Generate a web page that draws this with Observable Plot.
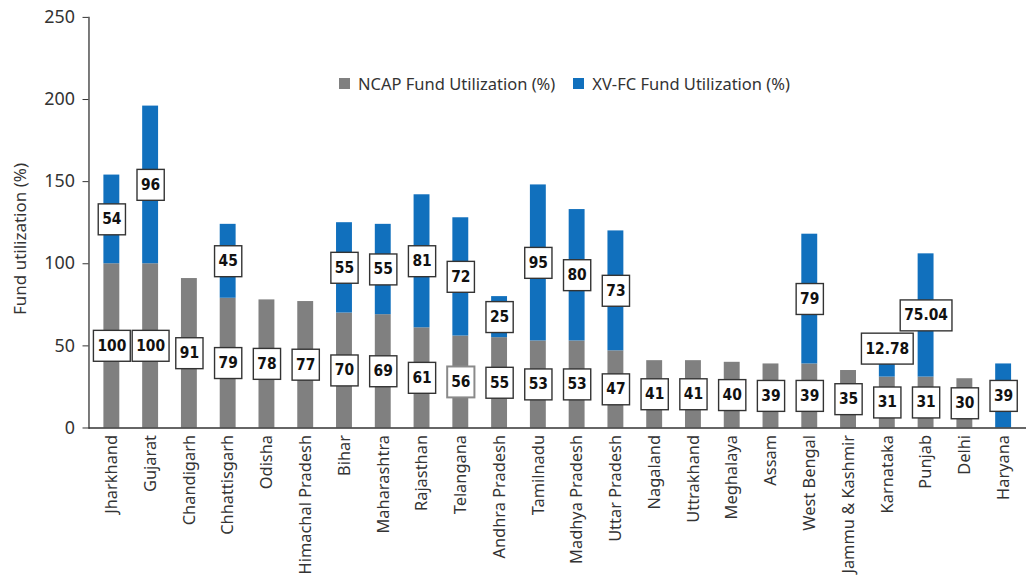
<!DOCTYPE html>
<html>
<head>
<meta charset="utf-8">
<script src="https://cdn.jsdelivr.net/npm/d3@7"></script>
<script src="https://cdn.jsdelivr.net/npm/@observablehq/plot@0.6"></script>
<style>
  html, body { margin: 0; padding: 0; background: #fff; overflow: hidden; }
  #wrap { position: relative; width: 1026px; height: 583px; overflow: hidden; }
  #legend { position: absolute; left: 339px; top: 72px; display: flex; align-items: center;
    font-family: "Noto Sans", sans-serif; font-size: 16.5px; color: #333; white-space: nowrap; }
  #legend .sw { width: 11px; height: 11px; display: inline-block; margin-right: 8px; }
  #legend .item { display: flex; align-items: center; margin-right: 18px; }
  #ytitle { position: absolute; left: 19px; top: 239px; transform: translate(-50%, -50%) rotate(-90deg);
    font-family: "Noto Sans", sans-serif; font-size: 17px; color: #333; white-space: nowrap; }
</style>
</head>
<body>
<div id="wrap">
  <div id="chart"></div>
  <div id="ytitle">Fund utilization (%)</div>
  <div id="legend"></div>
</div>
<script>
const states = ["Jharkhand","Gujarat","Chandigarh","Chhattisgarh","Odisha","Himachal Pradesh","Bihar","Maharashtra","Rajasthan","Telangana","Andhra Pradesh","Tamilnadu","Madhya Pradesh","Uttar Pradesh","Nagaland","Uttrakhand","Meghalaya","Assam","West Bengal","Jammu & Kashmir","Karnataka","Punjab","Delhi","Haryana"];
const ncap = [100,100,91,79,78,77,70,69,61,56,55,53,53,47,41,41,40,39,39,35,31,31,30,null];
const xvfc = [54,96,null,45,null,null,55,55,81,72,25,95,80,73,null,null,null,null,79,null,12.78,75.04,null,39];
const seriesNames = ["NCAP Fund Utilization (%)","XV-FC Fund Utilization (%)"];
const seriesColors = ["#808080","#1170bd"];
const yTicks = [0,50,100,150,200,250];

const rows = [];
states.forEach((s, i) => {
  if (ncap[i] != null) rows.push({state: s, series: seriesNames[0], value: ncap[i]});
  if (xvfc[i] != null) rows.push({state: s, series: seriesNames[1], value: xvfc[i]});
});

const chart = Plot.plot({
  width: 1032,
  height: 583,
  marginLeft: 89,
  marginRight: 0,
  marginTop: 17,
  marginBottom: 153,
  style: {fontFamily: "Noto Sans, sans-serif", fontSize: "17px", color: "#333", background: "#fff", overflow: "visible"},
  x: {domain: states, paddingInner: 0.59, paddingOuter: 0.295, label: null},
  y: {domain: [0, 250], label: null},
  color: {domain: seriesNames, range: seriesColors},
  marks: [
    Plot.barY(rows, {x: "state", y: "value", fill: "series", order: seriesNames}),
    Plot.ruleY([0], {stroke: "#333", strokeWidth: 1.3}),
    Plot.frame({anchor: "left", stroke: "#333", strokeWidth: 1.3}),
    Plot.axisY({ticks: yTicks, tickSize: 6, tickPadding: 8, fontSize: 18, label: null}),
    Plot.axisX({tickRotate: -90, tickSize: 0, tickPadding: 7, fontSize: 16.5, label: null}),
    Plot.text(rows, Plot.stackY({
      x: "state", y: "value", z: "series", order: seriesNames,
      text: d => String(d.value),
      fontFamily: "DejaVu Sans Condensed, DejaVu Sans, sans-serif", fontWeight: "bold", fontSize: 15.5, fill: "#111"
    }))
  ]
});

document.getElementById("chart").appendChild(chart);

// white boxes behind bar labels, sized from the rendered text
const labelTexts = Array.from(chart.querySelectorAll("text")).filter(t => {
  const g = t.closest("g");
  const fw = (g && g.getAttribute("font-weight")) || t.getAttribute("font-weight");
  return fw === "bold";
});
labelTexts.forEach(t => {
  // the short Karnataka segment's label sits above its segment in the original
  if (t.textContent === "12.78") {
    const tr0 = t.getAttribute("transform") || "";
    t.setAttribute("transform", tr0 + " translate(0,-18)");
  }
  const bb = t.getBBox();
  const r = document.createElementNS("http://www.w3.org/2000/svg", "rect");
  const padX = 4, padY = 6.5;
  r.setAttribute("x", bb.x - padX);
  r.setAttribute("y", bb.y - padY);
  r.setAttribute("width", bb.width + 2 * padX);
  r.setAttribute("height", bb.height + 2 * padY);
  r.setAttribute("fill", "#fff");
  const isTelangana = t.textContent === "56";
  r.setAttribute("stroke", isTelangana ? "#8a8a8a" : "#333");
  r.setAttribute("stroke-width", isTelangana ? 2 : 1.4);
  r.setAttribute("font-weight", "normal");
  const tr = t.getAttribute("transform");
  if (tr) r.setAttribute("transform", tr);
  t.parentNode.insertBefore(r, t);
});

// legend
const legend = document.getElementById("legend");
seriesNames.forEach((name, i) => {
  const item = document.createElement("span");
  item.className = "item";
  const sw = document.createElement("span");
  sw.className = "sw";
  sw.style.background = seriesColors[i];
  item.appendChild(sw);
  item.appendChild(document.createTextNode(name));
  legend.appendChild(item);
});
</script>
</body>
</html>
